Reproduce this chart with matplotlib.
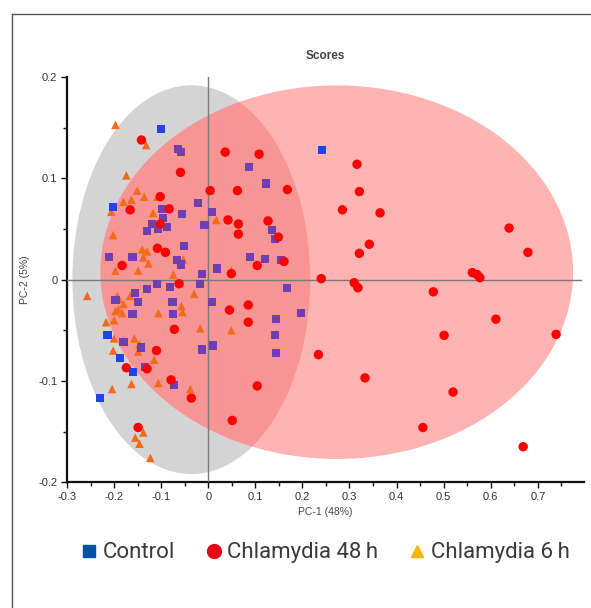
import matplotlib
matplotlib.use("Agg")
import matplotlib.pyplot as plt
from matplotlib.patches import Ellipse
from matplotlib.lines import Line2D

# ---- data (PC-1, PC-2 scores) ----
control_x = [-0.100, -0.202, 0.242, -0.214, -0.187, -0.159, -0.229]
control_y = [0.149, 0.072, 0.128, -0.055, -0.077, -0.091, -0.117]

chl48_x = [-0.142, -0.059, 0.036, 0.108, 0.168, 0.004, 0.062, -0.102, -0.166, -0.083,
           0.042, 0.064, 0.064, 0.127, 0.149, -0.102, -0.108, -0.091, -0.183, 0.049,
           0.104, 0.161, 0.240, -0.062, 0.045, 0.085, 0.085, -0.072, -0.110, -0.174,
           -0.130, -0.079, -0.036, 0.104, 0.051, -0.149, 0.234, 0.316, 0.321, 0.285,
           0.365, 0.639, 0.342, 0.321, 0.679, 0.310, 0.318, 0.561, 0.571, 0.577,
           0.478, 0.611, 0.501, 0.739, 0.333, 0.520, 0.456, 0.669]
chl48_y = [0.138, 0.106, 0.126, 0.124, 0.089, 0.088, 0.088, 0.082, 0.069, 0.070,
           0.059, 0.055, 0.045, 0.058, 0.042, 0.055, 0.031, 0.027, 0.014, 0.006,
           0.014, 0.018, 0.001, -0.004, -0.030, -0.025, -0.042, -0.049, -0.070, -0.087,
           -0.088, -0.099, -0.117, -0.105, -0.139, -0.146, -0.074, 0.114, 0.087, 0.069,
           0.066, 0.051, 0.035, 0.026, 0.027, -0.003, -0.008, 0.007, 0.005, 0.002,
           -0.012, -0.039, -0.055, -0.054, -0.097, -0.111, -0.146, -0.165]

chl6_x = [-0.197, -0.132, -0.174, -0.151, -0.136, -0.108, -0.163, -0.180, -0.206, -0.117,
          0.017, -0.202, -0.140, -0.130, -0.138, -0.127, -0.149, -0.197, -0.053, 0.049,
          -0.074, -0.257, -0.193, -0.191, -0.166, -0.030, -0.180, -0.191, -0.197, -0.183,
          -0.106, -0.057, -0.055, -0.217, -0.200, -0.017, 0.049, -0.200, -0.180, -0.157,
          -0.146, -0.149, -0.202, -0.115, -0.163, -0.106, -0.038, -0.204, -0.138, -0.155,
          -0.146, -0.123]
chl6_y = [0.153, 0.133, 0.103, 0.088, 0.082, 0.082, 0.079, 0.077, 0.067, 0.066,
          0.059, 0.044, 0.030, 0.028, 0.022, 0.016, 0.009, 0.009, 0.020, 0.009,
          0.005, -0.016, -0.016, -0.019, -0.016, -0.014, -0.024, -0.029, -0.031, -0.033,
          -0.033, -0.026, -0.032, -0.042, -0.040, -0.048, -0.050, -0.058, -0.060, -0.058,
          -0.064, -0.071, -0.070, -0.079, -0.103, -0.102, -0.108, -0.108, -0.151, -0.156,
          -0.162, -0.176]

other_x = [-0.064, -0.057, 0.087, 0.123, -0.021, -0.098, -0.096, -0.055, 0.008, -0.008,
           -0.130, -0.119, -0.106, -0.087, 0.136, 0.142, -0.051, -0.210, -0.161, -0.066,
           -0.057, -0.013, 0.019, 0.089, 0.121, 0.155, -0.108, -0.130, -0.081, -0.017,
           0.168, -0.155, -0.149, -0.197, -0.161, -0.076, -0.074, 0.008, 0.197, 0.144,
           0.142, 0.144, -0.180, -0.142, -0.013, 0.011, -0.134, -0.072]
other_y = [0.129, 0.126, 0.111, 0.095, 0.076, 0.070, 0.061, 0.065, 0.067, 0.054,
           0.048, 0.055, 0.050, 0.052, 0.049, 0.040, 0.033, 0.022, 0.022, 0.019,
           0.015, 0.006, 0.011, 0.022, 0.020, 0.019, -0.004, -0.009, -0.007, -0.004,
           -0.008, -0.013, -0.022, -0.020, -0.034, -0.022, -0.034, -0.022, -0.033, -0.039,
           -0.055, -0.072, -0.062, -0.067, -0.069, -0.065, -0.086, -0.104]

# confidence ellipses: (center x, center y, width, height)
gray_ell = (-0.036, 0.0, 0.505, 0.384)
red_ell = (0.273, 0.0074, 1.004, 0.369)

x_ticks = [-0.3, -0.2, -0.1, 0, 0.1, 0.2, 0.3, 0.4, 0.5, 0.6, 0.7]
x_tick_labels = ["-0.3", "-0.2", "-0.1", "0", "0.1", "0.2", "0.3", "0.4", "0.5", "0.6", "0.7"]
y_ticks = [-0.2, -0.1, 0, 0.1, 0.2]
y_tick_labels = ["-0.2", "-0.1", "0", "0.1", "0.2"]
legend_labels = ["Control", "Chlamydia 48\u2009h", "Chlamydia 6\u2009h"]

fig = plt.figure(figsize=(5.91, 6.08), dpi=100)
ax = fig.add_axes([0.1134, 0.207, 0.8746, 0.666])

ax.add_patch(Ellipse((gray_ell[0], gray_ell[1]), gray_ell[2], gray_ell[3],
                     facecolor="#d4d4d4", edgecolor="none", zorder=1))
red_patch = Ellipse((red_ell[0], red_ell[1]), red_ell[2], red_ell[3],
                    facecolor="#ffb3b3", edgecolor="none", zorder=2)
ax.add_patch(red_patch)
overlap = Ellipse((gray_ell[0], gray_ell[1]), gray_ell[2], gray_ell[3],
                  facecolor="#f79494", edgecolor="none", zorder=2.5)
ax.add_patch(overlap)
overlap.set_clip_path(red_patch)

ax.axvline(0, color="#7a7a7a", lw=1.0, zorder=3)
ax.axhline(0, color="#7a7a7a", lw=1.0, zorder=3, xmax=0.995)

ax.scatter(chl6_x, chl6_y, marker="^", s=38, color="#f26b1d", edgecolors="none", zorder=4)
ax.scatter(other_x, other_y, marker="s", s=34, color="#6f3fb0", edgecolors="none", zorder=5)
ax.scatter(chl48_x, chl48_y, marker="o", s=46, color="#ff0000", edgecolors="none", zorder=6)
ax.scatter(control_x, control_y, marker="s", s=34, color="#2244e0", edgecolors="none", zorder=7)

ax.set_xlim(-0.3, 0.798)
ax.set_ylim(-0.2, 0.2)
ax.set_xticks(x_ticks)
ax.set_xticklabels(x_tick_labels)
ax.set_yticks(y_ticks)
ax.set_yticklabels(y_tick_labels)
ax.set_xticks([v + 0.05 for v in x_ticks], minor=True)
ax.set_yticks([-0.15, -0.05, 0.05, 0.15], minor=True)

for s in ["top", "right"]:
    ax.spines[s].set_visible(False)
for s in ["left", "bottom"]:
    ax.spines[s].set_color("#111111")
    ax.spines[s].set_linewidth(1.6)
ax.tick_params(which="major", length=4, width=1.0, colors="#111111",
               labelsize=8, labelcolor="#333333", pad=3)
ax.tick_params(which="minor", length=3, width=1.0, colors="#111111")
for lab in ax.get_xticklabels() + ax.get_yticklabels():
    lab.set_fontfamily("Liberation Sans")

ax.set_title("Scores", fontsize=8.5, fontweight="bold", color="#444444",
             fontfamily="Liberation Sans", pad=13)
ax.set_xlabel("PC-1 (48%)", fontsize=7.5, color="#444444", fontfamily="Liberation Sans", labelpad=4)
ax.set_ylabel("PC-2 (5%)", fontsize=7.5, color="#444444", fontfamily="Liberation Sans", labelpad=6)

# frame lines around the figure content
fig.add_artist(Line2D([12 / 591, 1.0], [1 - 14 / 608, 1 - 14 / 608], color="#555555", lw=1.0))
fig.add_artist(Line2D([12 / 591, 12 / 591], [0.0, 1 - 14 / 608], color="#555555", lw=1.0))

handles = [
    Line2D([], [], marker="s", linestyle="none", color="#0052a5", markersize=9),
    Line2D([], [], marker="o", linestyle="none", color="#e30613", markersize=10),
    Line2D([], [], marker="^", linestyle="none", color="#f7b500", markersize=8),
]
leg = fig.legend(handles, legend_labels, loc="center",
                 bbox_to_anchor=(0.548, 0.0905), ncol=3, frameon=False,
                 handletextpad=0.1, columnspacing=1.25, handlelength=1.0,
                 prop={"family": ["Roboto", "DejaVu Sans"], "size": 16, "weight": "normal"})
for t in leg.get_texts():
    t.set_color("#3a3a3a")

fig.savefig("out.png", dpi=100)
